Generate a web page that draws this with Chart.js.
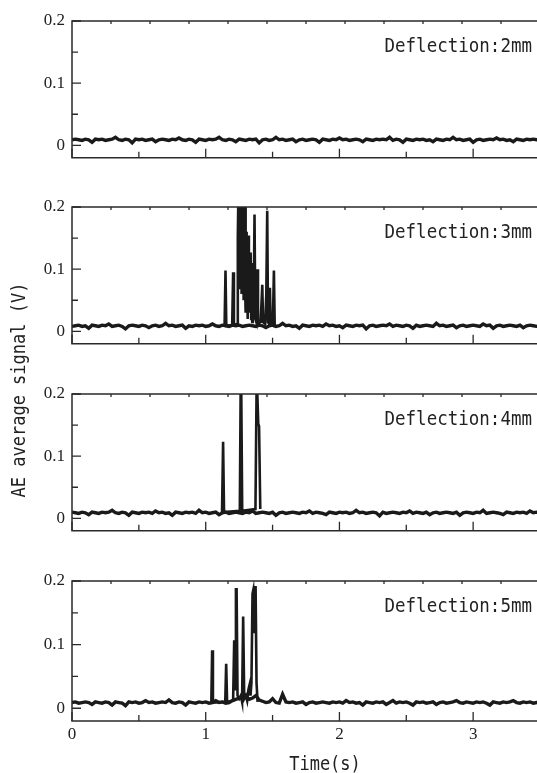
<!DOCTYPE html>
<html>
<head>
<meta charset="utf-8">
<script src="https://cdn.jsdelivr.net/npm/chart.js@4.4.1/dist/chart.umd.min.js"></script>
<style>
  html, body { margin: 0; padding: 0; background: #fff; overflow: hidden; }
  #figure { position: relative; width: 540px; height: 773px; }
  #figure canvas { position: absolute; left: 0; }
  .mono {
    position: absolute;
    font-family: "DejaVu Sans Mono", monospace;
    font-size: 17.5px;
    line-height: 1;
    color: #222;
    white-space: pre;
  }
  .panel-label { right: 8px; transform: scaleY(1.1); transform-origin: top right; }
  #yTitle {
    left: -97px; top: 380px; width: 230px; height: 20px; line-height: 20px;
    font-size: 17px; text-align: center;
    transform: rotate(-90deg) scaleY(1.1);
  }
  #xTitle { left: 288px; top: 755px; width: 74px; font-size: 17px; text-align: center; transform: scaleY(1.1); transform-origin: top center; }
</style>
</head>
<body>
<div id="figure">
  <canvas id="p2mm" width="540" height="175" style="top:0px"></canvas>
  <canvas id="p3mm" width="540" height="175" style="top:186px"></canvas>
  <canvas id="p4mm" width="540" height="175" style="top:373px"></canvas>
  <canvas id="p5mm" width="540" height="213" style="top:560px"></canvas>
  <div class="mono panel-label" style="top:37px">Deflection:2mm</div>
  <div class="mono panel-label" style="top:223px">Deflection:3mm</div>
  <div class="mono panel-label" style="top:410px">Deflection:4mm</div>
  <div class="mono panel-label" style="top:597px">Deflection:5mm</div>
  <div class="mono" id="yTitle">AE average signal (V)</div>
  <div class="mono" id="xTitle">Time(s)</div>
</div>
<script>
// Sampling interval of the recorded background signal (s)
const noiseStep = 0.025;

// Axis settings
const timeMin = 0, timeMax = 3.5;
const voltMin = -0.02, voltMax = 0.2;
const yLabelTicks = [0, 0.1, 0.2];
const yMinorTicks = [0.05, 0.15];
const xLabelTicks = [0, 1, 2, 3];
const xMinorTicks = [0.5, 1.5, 2.5];
const topTickDivisions = 12;

// Background AE level for each deflection (V), one value per noiseStep
const noise2mm = [
  .009,.010,.009,.008,.010,.009,.005,.010,.009,.010,
  .008,.009,.010,.013,.009,.008,.010,.009,.004,.010,
  .009,.010,.008,.009,.010,.006,.009,.010,.009,.008,
  .010,.009,.012,.009,.008,.010,.009,.005,.010,.009,
  .008,.010,.009,.010,.013,.009,.008,.010,.009,.006,
  .010,.009,.008,.010,.009,.010,.004,.009,.010,.008,
  .009,.013,.009,.010,.008,.009,.010,.006,.009,.010,
  .008,.009,.010,.009,.005,.010,.009,.008,.010,.009,
  .012,.009,.010,.008,.009,.010,.009,.006,.010,.009,
  .008,.010,.009,.010,.009,.013,.008,.010,.009,.005,
  .010,.009,.008,.010,.009,.010,.008,.009,.006,.010,
  .009,.008,.010,.009,.013,.009,.010,.008,.009,.010,
  .005,.009,.010,.008,.009,.010,.009,.012,.009,.010,
  .008,.009,.006,.010,.009,.008,.010,.009,.010,.009,
  .009
];
const noise3mm = [
  .008,.009,.010,.008,.009,.005,.010,.009,.008,.010,
  .009,.012,.008,.009,.010,.008,.004,.009,.010,.009,
  .008,.010,.009,.006,.009,.010,.008,.009,.013,.009,
  .010,.008,.009,.010,.005,.009,.008,.010,.009,.010,
  .008,.009,.012,.009,.008,.010,.009,.008,.010,.009,
  .010,.008,.009,.010,.009,.008,.010,.009,.006,.009,
  .010,.008,.009,.013,.009,.010,.008,.009,.005,.010,
  .009,.008,.010,.009,.010,.008,.012,.009,.010,.008,
  .009,.006,.010,.009,.008,.010,.009,.010,.004,.009,
  .010,.008,.009,.010,.009,.012,.008,.010,.009,.008,
  .010,.009,.005,.010,.008,.009,.010,.009,.008,.013,
  .009,.010,.008,.009,.010,.006,.009,.010,.008,.009,
  .010,.009,.008,.012,.009,.010,.005,.009,.010,.008,
  .009,.010,.009,.008,.010,.006,.009,.010,.009,.008,
  .009
];
const noise4mm = [
  .010,.009,.008,.010,.009,.006,.010,.009,.008,.010,
  .009,.010,.013,.009,.008,.010,.009,.005,.010,.009,
  .008,.010,.009,.010,.008,.012,.009,.010,.008,.009,
  .005,.010,.009,.008,.010,.009,.010,.008,.013,.009,
  .010,.008,.009,.010,.006,.009,.010,.008,.009,.010,
  .009,.008,.010,.009,.012,.008,.009,.010,.009,.008,
  .010,.005,.009,.010,.008,.009,.010,.009,.008,.010,
  .009,.012,.008,.010,.009,.008,.006,.010,.009,.008,
  .010,.009,.010,.008,.009,.013,.009,.010,.008,.009,
  .010,.009,.004,.010,.008,.009,.010,.009,.008,.010,
  .009,.012,.008,.010,.009,.008,.010,.006,.009,.010,
  .008,.009,.010,.009,.008,.010,.005,.009,.010,.009,
  .008,.010,.009,.013,.008,.009,.010,.009,.008,.006,
  .010,.009,.008,.010,.009,.010,.008,.012,.009,.010,
  .009
];
const noise5mm = [
  .009,.010,.008,.009,.010,.009,.006,.010,.009,.008,
  .010,.009,.005,.010,.009,.008,.004,.010,.009,.010,
  .008,.009,.012,.009,.010,.008,.009,.010,.009,.013,
  .009,.008,.010,.009,.005,.010,.009,.008,.010,.009,
  .010,.008,.009,.012,.009,.010,.008,.009,.012,.014,
  .016,.015,.018,.014,.016,.020,.013,.011,.009,.010,
  .015,.009,.008,.022,.010,.009,.010,.008,.009,.010,
  .006,.009,.010,.008,.009,.010,.009,.008,.010,.009,
  .010,.008,.012,.009,.010,.008,.009,.005,.010,.009,
  .008,.010,.009,.010,.006,.009,.012,.008,.010,.009,
  .010,.008,.005,.010,.009,.010,.008,.009,.010,.006,
  .009,.010,.008,.009,.010,.012,.009,.008,.010,.009,
  .008,.010,.009,.010,.008,.005,.010,.009,.008,.010,
  .009,.010,.012,.009,.008,.010,.009,.010,.008,.009,
  .009
];

// AE bursts (time in s, signal in V)
const burstTime3mm = [
  1.141,1.148,1.154,1.198,1.205,1.211,
  1.236,1.240,1.243,1.246,1.249,1.252,1.255,1.258,1.261,1.264,1.267,1.270,1.273,1.276,1.279,
  1.282,1.285,1.288,1.291,1.294,1.297,1.300,1.303,1.306,1.309,1.312,1.316,1.319,1.323,1.327,
  1.331,1.336,1.340,1.344,1.348,1.352,1.358,1.365,1.371,1.378,1.385,1.391,
  1.410,1.416,1.423,1.429,1.445,1.453,1.460,1.466,1.474,1.480,1.486,1.502,1.510,1.516
];
const burstVolt3mm = [
  .009,.098,.009,.010,.095,.010,
  .012,.150,.200,.090,.200,.130,.200,.070,.200,.150,.200,.060,.180,.100,.200,
  .050,.170,.120,.200,.080,.200,.030,.160,.060,.140,.020,.100,.154,.040,.080,
  .030,.127,.020,.060,.015,.110,.030,.188,.020,.015,.100,.012,
  .015,.040,.075,.015,.012,.060,.194,.015,.012,.070,.012,.010,.098,.009
];

const burstTime4mm = [1.122,1.130,1.137,1.255,1.261,1.266,1.273,1.372,1.380,1.386,1.393,1.399,1.408];
const burstVolt4mm = [.010,.123,.010,.012,.200,.200,.012,.015,.200,.200,.152,.148,.015];

const burstTime5mm = [1.042,1.048,1.054,1.146,1.153,1.160,1.205,1.213,1.220,1.226,1.231,1.238,1.250,1.262,1.272,1.280,1.288,1.300,1.310,1.320,1.328,1.335,1.342,1.350,1.355,1.362,1.368,1.373,1.380,1.388];
const burstVolt5mm = [.009,.091,.009,.010,.070,.010,.012,.107,.030,.187,.187,.020,.015,.020,.010,.144,.015,.020,.012,.030,.037,.020,.040,.180,.185,.120,.150,.192,.040,.010];

const inkColor = '#1a1a1a';
const frameColor = '#2a2a2a';

// Frame (left, top, bottom) with inward tick marks
const frameTicks = {
  id: 'frameTicks',
  afterDatasetsDraw(chart) {
    const { ctx, chartArea: a, scales: { x, y } } = chart;
    ctx.save();
    ctx.strokeStyle = frameColor;
    ctx.lineWidth = 1.5;
    ctx.beginPath();
    ctx.moveTo(a.right, a.top); ctx.lineTo(a.left, a.top);
    ctx.lineTo(a.left, a.bottom); ctx.lineTo(a.right, a.bottom);
    ctx.stroke();
    ctx.lineWidth = 1.3;
    ctx.beginPath();
    yLabelTicks.forEach(v => { const p = y.getPixelForValue(v); ctx.moveTo(a.left, p); ctx.lineTo(a.left + 9, p); });
    yMinorTicks.forEach(v => { const p = y.getPixelForValue(v); ctx.moveTo(a.left, p); ctx.lineTo(a.left + 6, p); });
    xLabelTicks.forEach(v => { const p = x.getPixelForValue(v); ctx.moveTo(p, a.bottom); ctx.lineTo(p, a.bottom - 9); });
    xMinorTicks.forEach(v => { const p = x.getPixelForValue(v); ctx.moveTo(p, a.bottom); ctx.lineTo(p, a.bottom - 6); });
    for (let i = 1; i < topTickDivisions; i++) {
      const p = x.getPixelForValue(timeMin + (timeMax - timeMin) * i / topTickDivisions);
      ctx.moveTo(p, a.top); ctx.lineTo(p, a.top + 3);
    }
    ctx.stroke();
    ctx.restore();
  }
};

function makePanel(canvasId, noise, burstTime, burstVolt, isBottom) {
  const datasets = [{
    data: noise.map((v, i) => ({ x: i * noiseStep, y: v })),
    borderColor: inkColor, borderWidth: 3.4, pointRadius: 0, tension: 0
  }];
  if (burstTime) {
    datasets.push({
      data: burstTime.map((t, i) => ({ x: t, y: burstVolt[i] })),
      borderColor: inkColor, borderWidth: 2.6, pointRadius: 0, tension: 0
    });
  }
  return new Chart(document.getElementById(canvasId), {
    type: 'line',
    data: { datasets },
    plugins: [frameTicks],
    options: {
      responsive: false,
      animation: false,
      devicePixelRatio: 1,
      layout: { padding: { top: 21, left: 0, right: 0, bottom: 0 } },
      plugins: { legend: { display: false }, tooltip: { enabled: false } },
      scales: {
        x: {
          type: 'linear', min: timeMin, max: timeMax,
          grid: { display: false, drawTicks: false }, border: { display: false },
          afterBuildTicks: s => { s.ticks = xLabelTicks.map(v => ({ value: v })); },
          afterFit: s => { s.height = isBottom ? 52 : 14; },
          ticks: {
            display: isBottom, padding: 3, color: '#222',
            font: { family: '"Liberation Serif", serif', size: 17 },
            callback: v => String(v)
          }
        },
        y: {
          type: 'linear', min: voltMin, max: voltMax,
          grid: { display: false, drawTicks: false }, border: { display: false },
          afterBuildTicks: s => { s.ticks = yLabelTicks.map(v => ({ value: v })); },
          afterFit: s => { s.width = 72; },
          ticks: {
            padding: 7, color: '#222',
            font: { family: '"Liberation Serif", serif', size: 17 },
            callback: v => String(v)
          }
        }
      }
    }
  });
}

makePanel('p2mm', noise2mm, null, null, false);
makePanel('p3mm', noise3mm, burstTime3mm, burstVolt3mm, false);
makePanel('p4mm', noise4mm, burstTime4mm, burstVolt4mm, false);
makePanel('p5mm', noise5mm, burstTime5mm, burstVolt5mm, true);
</script>
</body>
</html>
